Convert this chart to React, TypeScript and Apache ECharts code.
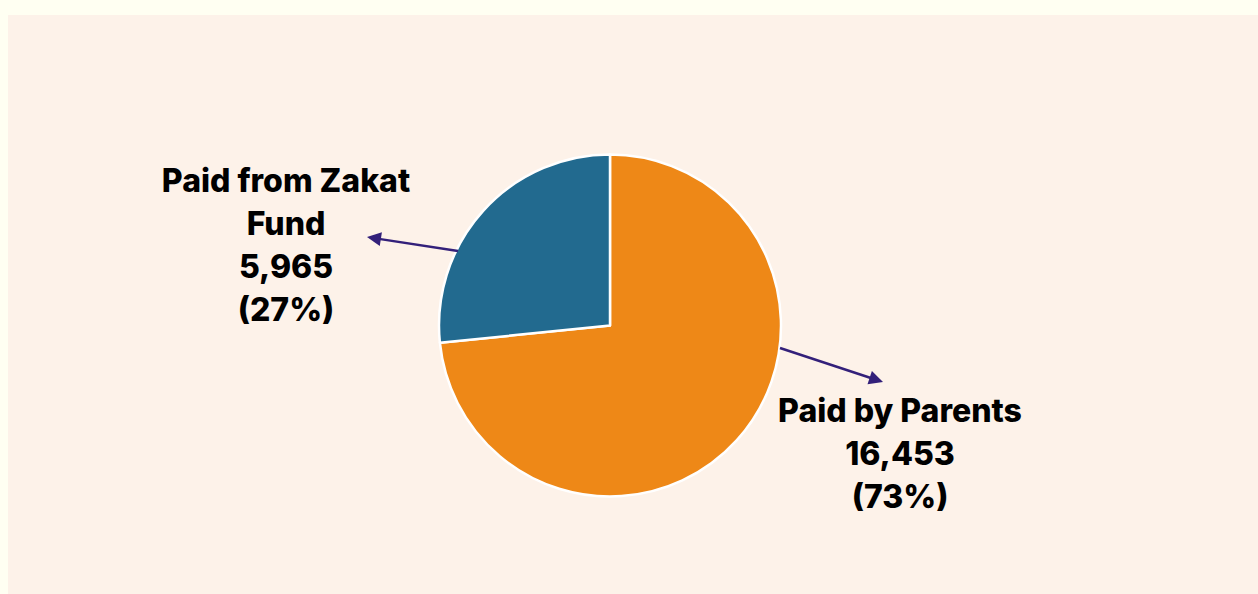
import React, { useEffect, useRef } from "react";
import * as echarts from "echarts";

const categories = ["Paid by Parents", "Paid from Zakat Fund"];
const values = [16453, 5965];
const colors = ["#EE8817", "#226A8F"];

function arrow(x1: number, y1: number, x2: number, y2: number, color: string) {
  const dx = x2 - x1;
  const dy = y2 - y1;
  const len = Math.sqrt(dx * dx + dy * dy);
  const ux = dx / len;
  const uy = dy / len;
  const hl = 14;
  const hw = 7;
  const bx = x2 - ux * hl;
  const by = y2 - uy * hl;
  return [
    {
      type: "line",
      shape: { x1, y1, x2: bx + ux * 2, y2: by + uy * 2 },
      style: { stroke: color, lineWidth: 2.4 },
      z: 10,
    },
    {
      type: "polygon",
      shape: {
        points: [
          [x2, y2],
          [bx - uy * hw, by + ux * hw],
          [bx + uy * hw, by - ux * hw],
        ],
      },
      style: { fill: color },
      z: 10,
    },
  ];
}

export default function App() {
  const ref = useRef<HTMLDivElement>(null);
  useEffect(() => {
    document.body.style.margin = "0";
    document.body.style.background = "#FFFFF2";
    const chart = echarts.init(ref.current!, undefined, { renderer: "svg" });
    const total = values.reduce((a, b) => a + b, 0);
    const labelPos = [
      { x: 900, y: 453 },
      { x: 286, y: 245 },
    ];
    const arrowColor = "#33207A";
    chart.setOption({
      animation: false,
      backgroundColor: "#FFFFF2",
      graphic: [
        {
          type: "rect",
          shape: { x: 8, y: 15, width: 1250, height: 579 },
          style: { fill: "#FDF2E9" },
          z: -10,
        },
        ...arrow(458, 251, 367, 237, arrowColor),
        ...arrow(780, 348, 883, 382, arrowColor),
      ],
      series: [
        {
          type: "pie",
          center: [610, 325.5],
          radius: 171,
          startAngle: 90,
          clockwise: true,
          z: 2,
          itemStyle: { borderColor: "#FFFFFF", borderWidth: 2.5 },
          label: {
            show: true,
            position: "outside",
            color: "#000000",
            fontFamily: "Inter",
            fontWeight: 800,
            fontSize: 32,
            lineHeight: 43,
            align: "center",
            formatter: (p: any) => {
              const name = p.name === "Paid from Zakat Fund" ? "Paid from Zakat\nFund" : p.name;
              return `${name}\n${p.value.toLocaleString("en-US")}\n(${Math.round((p.value / total) * 100)}%)`;
            },
          },
          labelLine: { show: false },
          labelLayout: (params: any) => ({
            x: labelPos[params.dataIndex].x,
            y: labelPos[params.dataIndex].y,
            align: "center",
            verticalAlign: "middle",
          }),
          data: categories.map((name, i) => ({
            name,
            value: values[i],
            itemStyle: { color: colors[i] },
          })),
        },
      ],
    });
    return () => chart.dispose();
  }, []);
  return <div ref={ref} style={{ width: 1258, height: 594 }} />;
}
